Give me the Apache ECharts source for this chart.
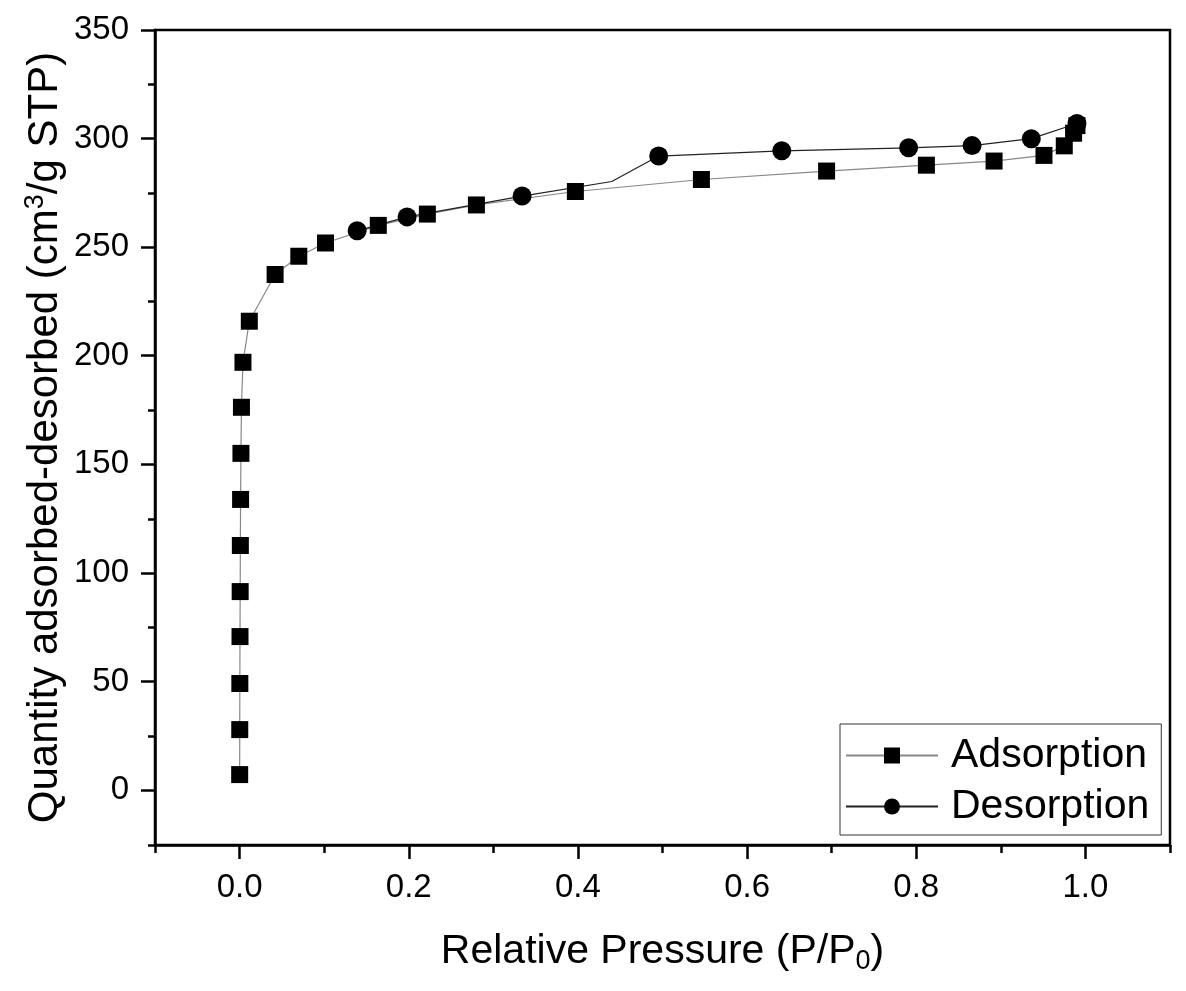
<!DOCTYPE html>
<html>
<head>
<meta charset="utf-8">
<script src="https://cdn.jsdelivr.net/npm/echarts@6/dist/echarts.min.js"></script>
<style>
  html, body { margin: 0; padding: 0; background: #fff; }
  #chart { width: 1186px; height: 991px; }
</style>
</head>
<body>
<div id="chart"></div>
<script>
// isotherm data: [P/P0, quantity]
const adsorptionX = [0.0001, 0.0002, 0.0003, 0.0005, 0.0007, 0.0009, 0.0012, 0.0016, 0.0022, 0.004, 0.0115,
    0.042, 0.070, 0.1016, 0.164, 0.222, 0.280, 0.397, 0.546, 0.694, 0.812, 0.892, 0.951, 0.975, 0.986, 0.990];
const adsorptionY = [7.4, 28.1, 49.3, 70.9, 91.6, 112.8, 134.0, 155.2, 176.4, 197.1, 216.0,
    237.5, 245.9, 252.0, 260.1, 265.3, 269.5, 275.7, 281.2, 285.1, 287.8, 289.7, 292.3, 296.7, 302.5, 306.0];
const desorptionX = [0.990, 0.936, 0.866, 0.791, 0.641, 0.4955, 0.440, 0.334, 0.198, 0.139];
const desorptionY = [307.0, 300.0, 296.8, 295.8, 294.4, 292.0, 280.3, 273.6, 264.0, 257.6];
// desorption points that only bend the line, no marker
const desorptionHidden = [0.440];

let font = 'Liberation Sans, Arial, sans-serif';
let tickLine = {color: '#000', width: 2.5};

let adsData = adsorptionX.map(function(x, i){ return [x, adsorptionY[i]]; });
let desData = desorptionX.map(function(x, i){
    let item = {value: [x, desorptionY[i]]};
    if(desorptionHidden.indexOf(x) >= 0){
        item.symbol = 'none';
    }
    return item;
});

let labelStyle = {show: true, margin: 26, fontFamily: font, fontSize: 33, color: '#000'};

let myChart = echarts.init(document.getElementById('chart'), null, {renderer: 'canvas'});
let option = {
    backgroundColor: '#fff',
    animation: false,
    grid: [
        // plot area, x -0.1..1.1, y -25..350
        {left: 155, right: 16, top: 30, bottom: 146,
            show: true, borderColor: '#000', borderWidth: 2.5, backgroundColor: 'transparent'},
        // same pixels for x 0..1 and y 0..350, carries the labels and long ticks
        {left: 239.6, right: 100.6, top: 30, bottom: 201, show: false}
    ],
    legend: {
        orient: 'vertical',
        left: 840,
        top: 724,
        padding: [11, 12, 8, 5],
        itemGap: 10,
        itemWidth: 92,
        itemHeight: 20,
        borderColor: '#333',
        borderWidth: 1,
        textStyle: {fontFamily: font, fontSize: 41, color: '#000', padding: [0, 0, 0, 8]},
        data: ['Adsorption', 'Desorption']
    },
    xAxis: [
        {
            // axis line, short ticks at -0.1, 0.1 ... 1.1, and the title
            type: 'value', gridIndex: 0, position: 'bottom',
            min: -0.1, max: 1.1, interval: 0.2,
            splitLine: {show: false},
            axisLine: {show: true, onZero: false, lineStyle: {color: '#000', width: 2.5}},
            axisTick: {show: true, inside: false, length: 8, lineStyle: tickLine},
            axisLabel: {show: false},
            name: 'Relative Pressure (P/P{sub|0})',
            nameLocation: 'middle',
            nameGap: 83,
            nameTextStyle: {
                fontFamily: font, fontSize: 41, color: '#000',
                rich: {sub: {fontFamily: font, fontSize: 27, color: '#000', padding: [20, 0, 0, 0]}}
            }
        },
        {
            // labels and long ticks at 0.0 ... 1.0, pushed down to the plot's bottom edge
            type: 'value', gridIndex: 1, position: 'bottom', offset: 55,
            min: 0, max: 1, interval: 0.2,
            splitLine: {show: false},
            axisLine: {show: false, onZero: false},
            axisTick: {show: true, inside: false, length: 14, lineStyle: tickLine},
            axisLabel: Object.assign({}, labelStyle, {formatter: function(v){ return v.toFixed(1); }})
        }
    ],
    yAxis: [
        {
            // axis line, short ticks at -25, 25 ... 325, and the title
            type: 'value', gridIndex: 0, position: 'left',
            min: -25, max: 350, interval: 50,
            splitLine: {show: false},
            axisLine: {show: true, onZero: false, lineStyle: {color: '#000', width: 2.5}},
            axisTick: {show: true, inside: false, length: 7, lineStyle: tickLine},
            axisLabel: {show: false},
            name: 'Quantity adsorbed-desorbed (cm{sup|3}/g STP)',
            nameLocation: 'middle',
            nameGap: 86,
            nameTextStyle: {
                fontFamily: font, fontSize: 42, color: '#000',
                rich: {sup: {fontFamily: font, fontSize: 27, color: '#000', padding: [0, 0, 20, 0]}}
            }
        },
        {
            // labels and long ticks at 0 ... 350, moved back to the plot's left edge
            type: 'value', gridIndex: 1, position: 'left', offset: 84.6,
            min: 0, max: 350, interval: 50,
            splitLine: {show: false},
            axisLine: {show: false, onZero: false},
            axisTick: {show: true, inside: false, length: 14, lineStyle: tickLine},
            axisLabel: labelStyle
        }
    ],
    series: [
        {
            name: 'Adsorption',
            type: 'line',
            xAxisIndex: 0,
            yAxisIndex: 0,
            data: adsData,
            symbol: 'rect',
            symbolSize: 17,
            itemStyle: {color: '#000'},
            lineStyle: {color: '#888', width: 1.2}
        },
        {
            name: 'Desorption',
            type: 'line',
            xAxisIndex: 0,
            yAxisIndex: 0,
            data: desData,
            symbol: 'circle',
            symbolSize: 19,
            itemStyle: {color: '#000'},
            lineStyle: {color: '#222', width: 1.2}
        }
    ]
};
myChart.setOption(option);
</script>
</body>
</html>
